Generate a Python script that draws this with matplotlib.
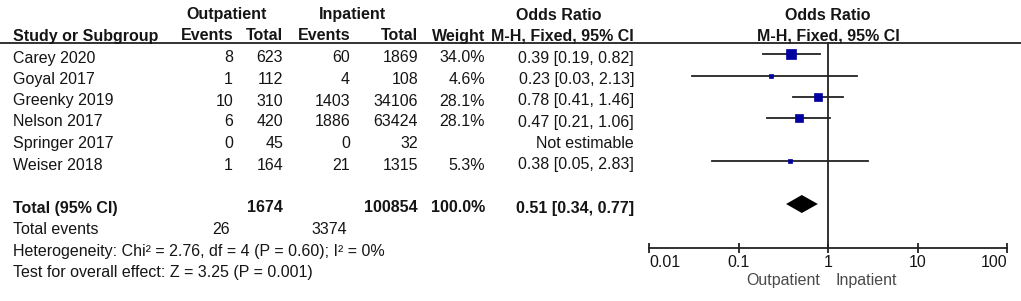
import matplotlib
matplotlib.use("Agg")
import matplotlib.pyplot as plt
import numpy as np
from matplotlib.ticker import FixedLocator, NullLocator

plt.rcParams['font.family'] = ['Liberation Sans', 'DejaVu Sans']

# study data
studies = ['Carey 2020', 'Goyal 2017', 'Greenky 2019', 'Nelson 2017', 'Springer 2017', 'Weiser 2018']
out_events = [8, 1, 10, 6, 0, 1]
out_total = [623, 112, 310, 420, 45, 164]
in_events = [60, 4, 1403, 1886, 0, 21]
in_total = [1869, 108, 34106, 63424, 32, 1315]
weights = [34.0, 4.6, 28.1, 28.1, None, 5.3]
odds = [0.39, 0.23, 0.78, 0.47, None, 0.38]
ci_low = [0.19, 0.03, 0.41, 0.21, None, 0.05]
ci_high = [0.82, 2.13, 1.46, 1.06, None, 2.83]

total_out = 1674
total_in = 100854
total_out_events = 26
total_in_events = 3374
pooled = (0.51, 0.34, 0.77)
heterogeneity = 'Heterogeneity: Chi\u00b2 = 2.76, df = 4 (P = 0.60); I\u00b2 = 0%'
overall = 'Test for overall effect: Z = 3.25 (P = 0.001)'
axis_ticks = [0.01, 0.1, 1, 10, 100]
axis_labels = ['0.01', '0.1', '1', '10', '100']

FS = 11.5
TXT = '#151515'
W, H = 1021, 301

fig = plt.figure(figsize=(W / 100, H / 100), dpi=100)
ax = fig.add_axes([0, 0, 1, 1])
ax.set_xlim(0, W)
ax.set_ylim(H, 0)
ax.axis('off')


def txt(x, y, s, ha='right', bold=False, color=TXT):
    ax.text(x, y, s, ha=ha, va='center', fontsize=FS, color=color,
            fontweight='bold' if bold else 'normal')


# column right edges
c_oe, c_ot, c_ie, c_it, c_w, c_or = 233, 283, 350, 418, 485, 634

# headers
txt(227, 15, 'Outpatient', ha='center', bold=True)
txt(352, 15, 'Inpatient', ha='center', bold=True)
txt(559, 15, 'Odds Ratio', ha='center', bold=True)
txt(828, 15, 'Odds Ratio', ha='center', bold=True)
txt(13, 36, 'Study or Subgroup', ha='left', bold=True)
txt(c_oe, 36, 'Events', bold=True)
txt(c_ot, 36, 'Total', bold=True)
txt(c_ie, 36, 'Events', bold=True)
txt(c_it, 36, 'Total', bold=True)
txt(c_w, 36, 'Weight', bold=True)
txt(c_or, 36, 'M-H, Fixed, 95% CI', bold=True)
txt(828, 36, 'M-H, Fixed, 95% CI', ha='center', bold=True)
ax.plot([0, W], [43, 43], color='#222222', lw=1.3, solid_capstyle='butt')

row_y = [58, 79.5, 101, 122, 143.5, 165]
for i, name in enumerate(studies):
    y = row_y[i]
    txt(13, y, name, ha='left')
    txt(c_oe, y, str(out_events[i]))
    txt(c_ot, y, str(out_total[i]))
    txt(c_ie, y, str(in_events[i]))
    txt(c_it, y, str(in_total[i]))
    if weights[i] is not None:
        txt(c_w, y, f'{weights[i]:.1f}%')
        txt(c_or, y, f'{odds[i]:.2f} [{ci_low[i]:.2f}, {ci_high[i]:.2f}]')
    else:
        txt(c_or, y, 'Not estimable')

ty = 208
txt(13, ty, 'Total (95% CI)', ha='left', bold=True)
txt(c_ot, ty, str(total_out), bold=True)
txt(c_it, ty, str(total_in), bold=True)
txt(c_w, ty, '100.0%', bold=True)
txt(c_or, ty, f'{pooled[0]:.2f} [{pooled[1]:.2f}, {pooled[2]:.2f}]', bold=True)
txt(13, 230, 'Total events', ha='left')
txt(230, 230, str(total_out_events))
txt(347, 230, str(total_in_events))
txt(13, 251.5, heterogeneity, ha='left')
txt(13, 273, overall, ha='left')

# forest panel
fx0, fx1 = 649, 1007
fa = fig.add_axes([fx0 / W, 0, (fx1 - fx0) / W, 1])
fa.set_xscale('log')
fa.set_xlim(0.01, 100)
fa.set_ylim(H, 0)
fa.patch.set_visible(False)
for s in ['top', 'left', 'right']:
    fa.spines[s].set_visible(False)
fa.spines['bottom'].set_position(('data', 248))
fa.spines['bottom'].set_linewidth(1.3)
fa.spines['bottom'].set_color('#222222')
fa.set_yticks([])
fa.xaxis.set_major_locator(FixedLocator(axis_ticks))
fa.xaxis.set_minor_locator(NullLocator())
fa.set_xticklabels(axis_labels)
fa.tick_params(axis='x', direction='inout', length=7.5, width=1.3, color='#222222',
               labelsize=FS, labelcolor=TXT, pad=1.5)
labs = fa.get_xticklabels()
labs[0].set_ha('left')
labs[-1].set_ha('right')

fa.plot([1, 1], [43, 248], color='#222222', lw=1.3)

for i in range(len(studies)):
    if odds[i] is None:
        continue
    y = row_y[i] - 4
    fa.plot([ci_low[i], ci_high[i]], [y, y], color='#222222', lw=1.3)
    side = 1.55 * np.sqrt(weights[i]) * 0.72
    fa.plot(odds[i], y, marker='s', markersize=side, color='#0000a0', mec='#0000a0', mew=0.5)

dy = 204
fa.fill([pooled[1], pooled[0], pooled[2], pooled[0]], [dy, dy - 9, dy, dy + 9],
        color='black', lw=0)

ax.text(820, 281, 'Outpatient', ha='right', va='center', fontsize=FS, color='#4a4a4a')
ax.text(835, 281, 'Inpatient', ha='left', va='center', fontsize=FS, color='#4a4a4a')

fig.savefig('out.png', dpi=100)
